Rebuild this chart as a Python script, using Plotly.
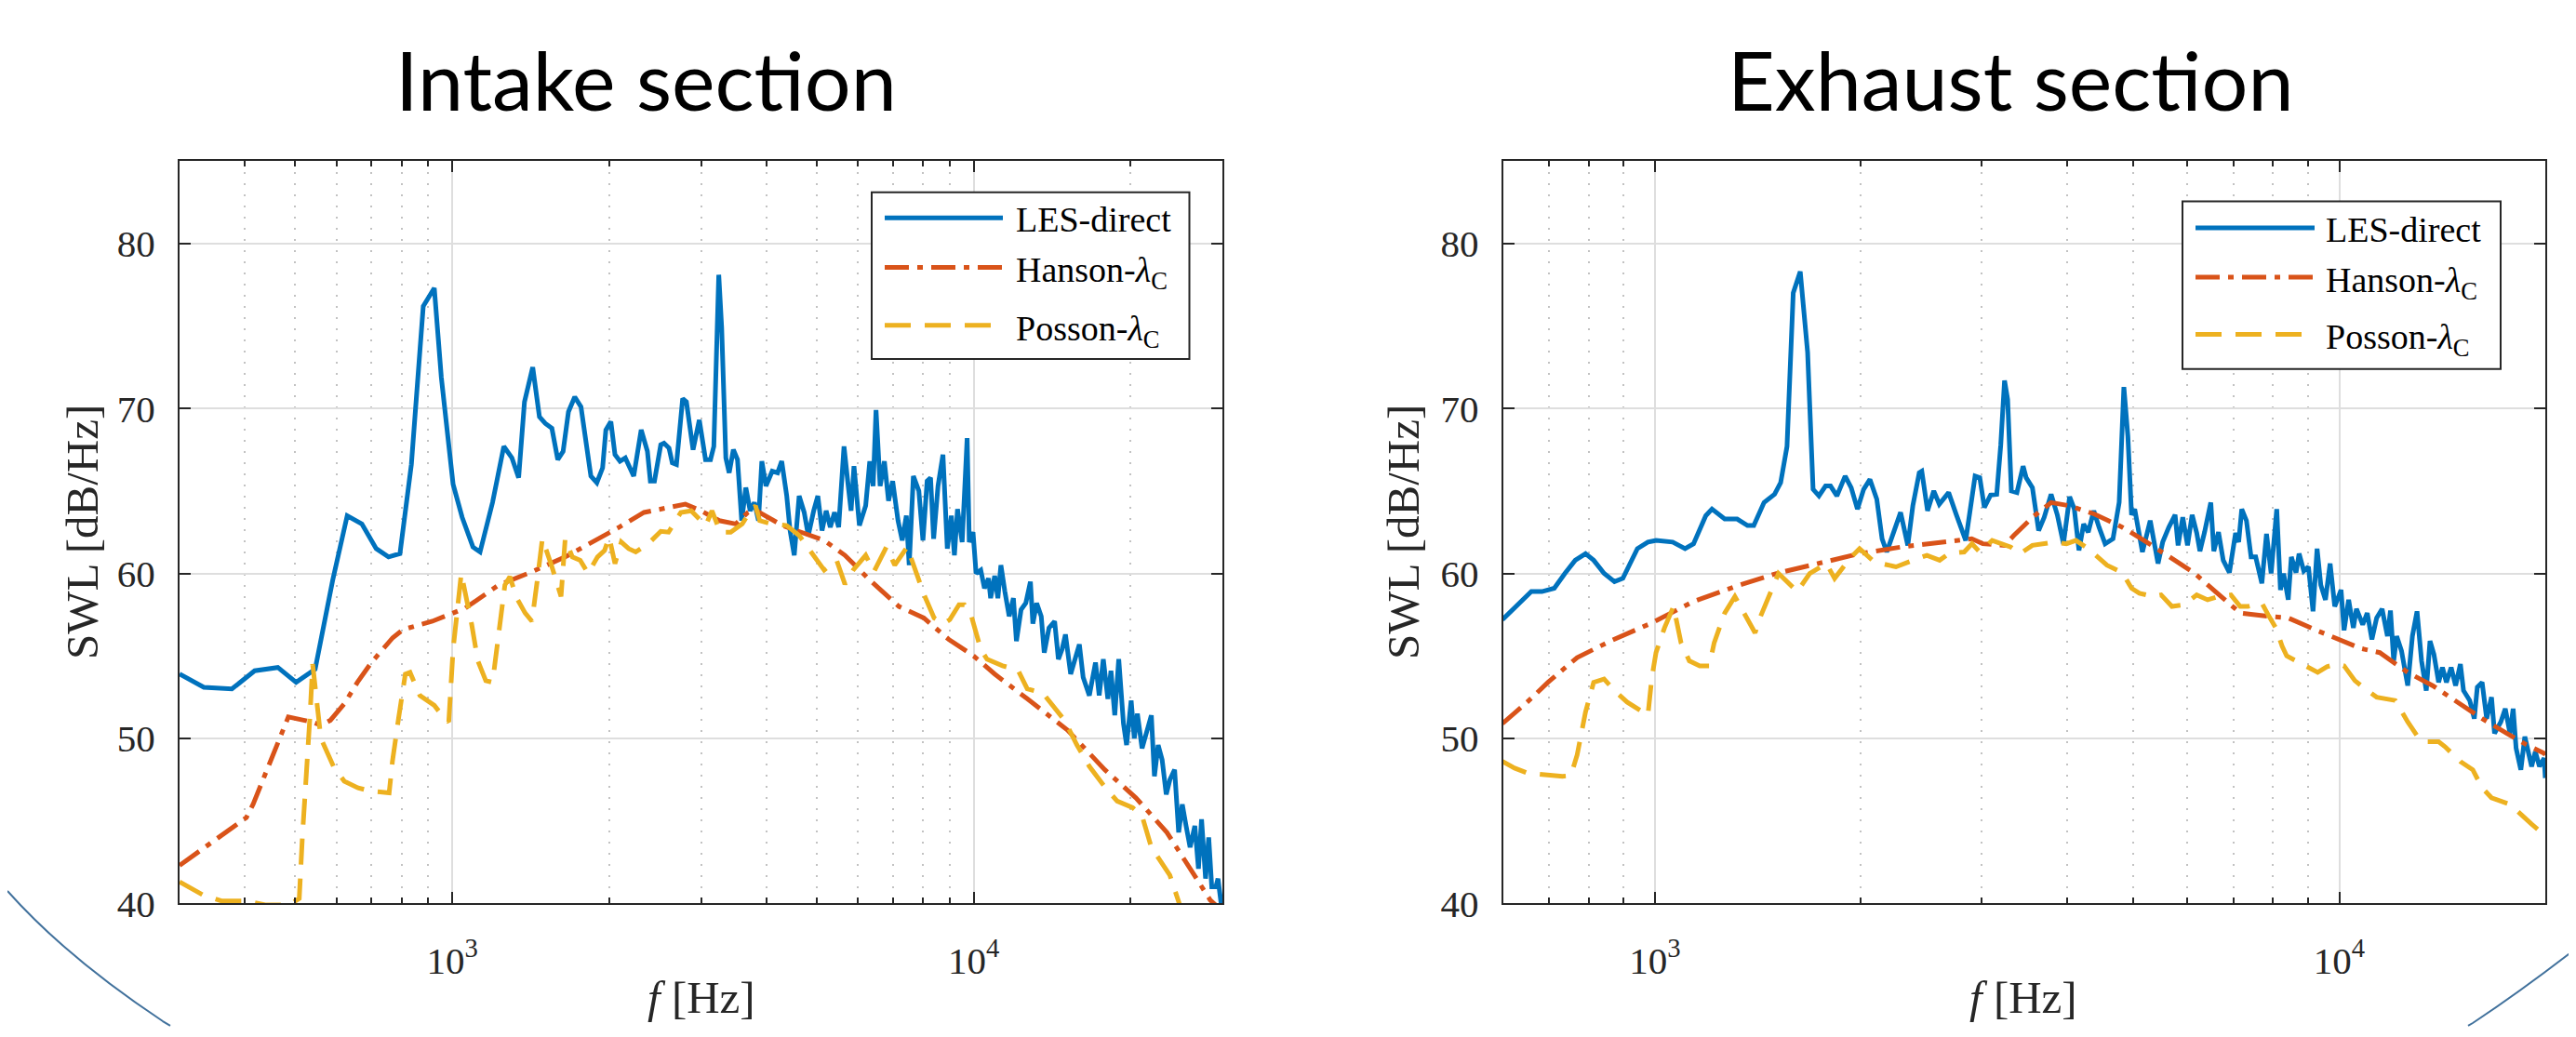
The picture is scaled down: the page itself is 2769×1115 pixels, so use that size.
import plotly.graph_objects as go
import numpy as np

W, H = 2769, 1115

# ---------------- DATA ----------------
# Intake section
intake_les_f = [300,334,378,418,463,502,546,590,629,671,715,755,794,835,880,924,953,1004,1045,1096,1131,1195,1256,1302,1341,1376,1427,1470,1508,1553,1594,1632,1671,1718,1766,1845,1894,1943,1971,2015,2052,2098,2148,2229,2304,2368,2399,2443,2512,2548,2605,2643,2692,2767,2813,2897,2978,3061,3129,3175,3245,3287,3348,3398,3461,3525,3591,3657,3728,3798,3867,3925,3997,4109,4208,4285,4381,4446,4529,4628,4732,4819,4935,5026,5120,5214,5311,5410,5510,5642,5748,5821,5896,6039,6208,6322,6416,6499,6618,6743,6868,6994,7162,7295,7430,7524,7664,7851,7995,8144,8268,8381,8545,8733,8903,9064,9187,9313,9506,9718,9810,9973,10110,10320,10490,10680,10780,10975,11130,11280,11480,11700,11920,12080,12330,12590,12850,12990,13210,13480,13660,13950,14300,14540,14780,15000,15350,15610,15950,16220,16670,17130,17410,17730,18090,18340,18650,18980,19380,19650,20050,20330,20610,21040,21470,21920,22220,22590,22990,23410,23790,24290,24730,25130,25550,26010,26560,26990,27360,27850,28240,28620,29140,29420,29830]
intake_les_db = [53.9,53.1,53.0,54.1,54.3,53.4,54.2,59.6,63.5,63.0,61.5,61.0,61.2,66.6,76.2,77.3,71.9,65.4,63.4,61.6,61.3,64.3,67.7,67.0,65.8,70.4,72.5,69.5,69.1,68.8,66.9,67.4,69.8,70.7,70.1,65.9,65.5,66.4,68.7,69.2,67.2,66.8,67.0,65.9,68.7,67.4,65.6,65.6,67.8,67.9,67.6,66.7,66.6,70.6,70.4,67.5,69.3,66.9,66.9,67.7,78.1,74.9,67.0,66.1,67.5,66.9,63.2,65.2,63.8,64.3,63.2,66.8,65.3,66.2,66.1,66.8,64.7,62.6,61.1,64.7,63.7,62.3,63.8,64.7,62.6,63.8,62.8,63.7,62.8,67.7,65.3,63.8,66.5,62.9,64.1,66.8,65.3,69.9,65.3,66.8,64.4,65.6,63.2,62.0,63.5,60.5,65.9,65.0,62.0,65.6,65.8,62.1,65.3,67.2,61.5,63.5,61.1,63.9,61.9,68.2,61.9,62.5,60.0,60.2,59.1,59.7,58.5,59.85,58.5,60.5,58.9,57.4,58.5,55.9,57.8,58.2,59.5,56.95,58.2,57.4,55.2,56.7,57.1,54.8,55.4,56.3,53.9,54.8,55.7,53.7,52.6,54.6,52.6,54.8,52.4,54.1,51.4,54.8,50.9,49.6,52.3,50.0,51.5,49.4,50.5,51.4,47.7,49.6,48.7,46.6,47.5,48.1,44.3,46.0,44.7,43.4,44.7,42.1,45.1,41.5,44.0,41.0,41.0,41.5,40.0]

intake_hanson_f = [300,338,403,415,447,472,485,538,560,584,621,658,700,769,805,916,1060,1228,1422,1647,1907,2090,2333,2653,2800,3000,3253,3499,3690,3784,4301,5168,5665,6322,7189,8024,8960,10000,10975,12670,15140,17850,20470,23480,25830,28430,29800]
intake_hanson_db = [42.3,43.5,45.2,46.0,48.5,50.5,51.3,51.0,50.8,51.1,52.1,53.4,54.6,56.1,56.6,57.1,57.9,59.3,60.1,61.0,62.1,62.8,63.7,64.1,64.2,63.8,63.2,63.0,63.7,63.9,62.9,62.0,61.1,59.6,58.0,57.3,56.0,55.0,53.9,52.4,50.5,48.1,46.4,44.3,42.3,40.2,39.6]

intake_posson_f = [300,333,361,403,440,480,492,509,516,527,534,540,560,592,621,660,698,757,768,789,813,830,867,924,967,985,1004,1041,1060,1090,1120,1160,1195,1228,1262,1290,1330,1380,1422,1455,1489,1550,1617,1647,1700,1760,1822,1900,1960,2000,2052,2110,2180,2249,2377,2512,2600,2745,2873,3064,3149,3267,3420,3600,3714,3817,3888,4100,4381,4628,5026,5168,5461,5665,5875,6208,6438,6804,7059,7458,8024,8400,8758,9000,9376,9600,9904,10320,10610,11360,12160,12670,13570,14940,15780,16670,17850,18850,20190,21040,21920,22840,23790,24790,25500]
intake_posson_db = [41.3,40.5,40.15,40.15,39.9,39.9,40.0,40.3,44.0,48.1,51.5,54.5,50.0,48.3,47.4,47.0,46.8,46.7,48.6,51.2,53.9,54.0,52.6,52.0,51.2,51.0,55.4,60.0,58.9,56.9,54.7,53.5,53.4,56.6,59.3,59.8,58.5,57.6,57.1,59.5,62.1,60.5,58.6,62.1,61.0,60.8,60.0,61.0,61.4,62.2,60.6,61.9,61.5,61.3,61.8,62.55,62.5,63.7,63.8,62.9,63.8,62.5,62.5,63.0,63.7,64.1,63.2,63.0,62.9,62.3,60.8,60.2,60.8,59.35,60.2,61.1,60.1,61.6,60.5,61.6,58.75,57.3,56.95,57.2,58.1,58.1,57.4,55.4,54.8,54.4,54.15,53.0,52.75,51.1,49.6,48.3,47.05,46.2,45.8,45.3,43.4,42.5,41.7,40.0,38.8]

# Exhaust section
exhaust_les_f = [599,633,660,684,713,739,765,792,814,843,873,898,943,977,1004,1062,1107,1139,1187,1212,1265,1319,1366,1395,1444,1496,1527,1560,1593,1631,1649,1672,1703,1737,1776,1806,1845,1897,1936,1977,2019,2062,2110,2148,2182,2227,2286,2342,2382,2434,2455,2503,2556,2604,2687,2758,2846,2937,2984,3030,3094,3159,3202,3243,3277,3318,3381,3452,3488,3562,3637,3706,3793,3873,3954,4037,4101,4166,4232,4298,4379,4457,4549,4671,4769,4845,4911,4972,5025,5157,5294,5435,5521,5637,5756,5815,5907,6002,6096,6191,6258,6356,6491,6557,6661,6768,6910,7055,7129,7203,7318,7432,7549,7707,7829,7952,8103,8205,8293,8423,8511,8647,8736,8875,9016,9155,9281,9397,9546,9697,9849,10060,10163,10320,10486,10595,10820,10987,11160,11340,11550,11760,11880,12010,12130,12330,12590,12790,12990,13190,13400,13570,13750,13970,14150,14340,14570,14790,15030,15190,15510,15750,15910,16170,16420,16690,16860,17220,17480,17760,17950,18130,18420,18670,18910,19100,19340,19610,19920,20000]
exhaust_les_db = [57.2,58.2,58.9,58.9,59.1,60.0,60.8,61.2,60.8,60.0,59.5,59.7,61.5,61.9,62.0,61.9,61.5,61.8,63.5,63.9,63.3,63.3,62.9,62.9,64.3,64.8,65.5,67.7,77.0,78.3,76.4,73.4,65.1,64.7,65.3,65.3,64.7,65.9,65.2,63.9,65.1,65.7,64.5,62.1,61.3,62.3,63.7,61.7,64.1,66.1,66.2,63.8,65.0,64.2,64.9,63.55,62.0,65.9,65.8,64.0,64.75,64.8,67.8,71.7,70.55,65.0,64.9,66.5,65.8,65.2,62.6,63.4,64.8,63.55,61.8,64.65,63.9,61.4,63.0,62.5,63.8,62.8,61.8,62.1,64.3,71.3,68.3,63.55,63.9,61.3,63.2,60.6,61.9,62.8,63.55,61.7,63.4,61.7,63.55,62.45,61.35,62.5,64.3,61.35,62.5,60.8,60.05,62.45,61.9,63.9,63.2,61.0,61.0,59.4,62.4,60.0,63.9,59.0,60.0,58.4,61.0,60.05,61.2,60.15,60.4,57.7,61.5,59.3,58.4,60.6,58.0,59.0,56.55,58.4,56.7,57.85,56.9,57.6,56.0,57.3,57.85,56.2,57.75,54.7,56.2,55.3,53.2,56.2,57.7,54.7,52.9,55.9,55.1,53.4,54.3,53.4,54.3,53.2,54.5,52.9,52.3,51.2,53.1,53.4,51.2,52.5,50.3,51.0,51.8,50.3,51.8,49.4,48.1,50.1,49.2,48.3,49.2,48.3,48.8,47.6]

exhaust_hanson_f = [599,651,698,770,861,990,1139,1309,1506,1732,1991,2290,2634,2904,3014,3243,3346,3562,3793,4037,4388,4819,5185,5637,6129,6593,6945,7165,7870,8423,9204,10000,10760,11460,12590,13690,14880,16170,17580,18710,19920,20000]
exhaust_hanson_db = [50.9,52.2,53.4,54.9,55.9,57.0,58.3,59.2,60.0,60.6,61.2,61.6,61.9,62.1,61.8,61.7,62.3,63.4,64.3,64.1,63.6,62.8,62.0,61.0,60.05,58.9,58.1,57.6,57.4,57.3,56.6,56.0,55.45,55.2,54.0,53.2,52.2,51.2,50.3,49.65,49.1,49.0]

exhaust_posson_f = [599,624,651,698,733,754,770,792,814,843,873,911,956,977,990,1004,1033,1065,1092,1123,1163,1201,1221,1265,1309,1346,1401,1424,1464,1516,1615,1684,1781,1831,1936,1991,2093,2251,2421,2498,2607,2687,2831,2906,2983,3111,3311,3417,3562,3832,3995,4122,4298,4437,4577,4821,4972,5105,5351,5492,5695,5937,6191,6421,6659,6945,7165,7355,7709,7870,8078,8249,8379,8646,9300,9596,9901,10163,10540,10990,11340,12070,12590,13120,13400,13970,14270,15030,15670,16170,16690,17220,17760,19100,20000]
exhaust_posson_db = [48.6,48.2,47.9,47.8,47.7,47.75,49.0,51.6,53.4,53.6,52.9,52.2,51.6,51.4,53.7,55.2,56.7,58.0,55.8,54.7,54.4,54.4,55.8,57.6,58.6,57.7,56.4,57.3,58.5,60.0,58.9,60.0,60.6,59.7,61.0,61.5,60.7,60.4,60.9,61.1,60.8,61.2,61.3,61.8,61.3,62.0,61.6,61.2,61.7,61.9,61.8,62.0,61.5,61.0,60.5,60.05,59.1,58.8,58.6,58.7,58.0,58.1,58.7,58.4,58.6,58.7,58.0,58.0,58.2,57.5,56.7,55.6,55.0,54.7,54.0,54.35,54.5,54.4,53.5,52.9,52.5,52.3,51.0,49.9,49.8,49.8,49.5,48.6,48.1,47.0,46.4,46.2,46.0,44.8,44.1]

titles = ["Intake section", "Exhaust section"]
series_names = ["LES-direct", "Hanson-<i>λ</i><sub>C</sub>", "Posson-<i>λ</i><sub>C</sub>"]
x_ranges = [(300, 30000), (600, 20000)]
y_range = (40, 85)
y_ticks = [40, 50, 60, 70, 80]
x_major = [1000, 10000]
x_major_text = ["10<sup>3</sup>", "10<sup>4</sup>"]
x_minor = [[400, 500, 600, 700, 800, 900, 2000, 3000, 4000, 5000, 6000, 7000, 8000, 9000, 20000],
           [700, 800, 900, 2000, 3000, 4000, 5000, 6000, 7000, 8000, 9000]]

for a, b in [(intake_les_f, intake_les_db), (intake_hanson_f, intake_hanson_db),
             (intake_posson_f, intake_posson_db), (exhaust_les_f, exhaust_les_db),
             (exhaust_hanson_f, exhaust_hanson_db), (exhaust_posson_f, exhaust_posson_db)]:
    assert len(a) == len(b), (len(a), len(b))

# ---------------- STYLE ----------------
BLUE, RED, YEL = "#0072BD", "#D95319", "#EDB120"
AX = "#262626"
LW = 5
DASHES = ["solid", "26px,9px,6px,9px", "28px,15px"]
COLORS = [BLUE, RED, YEL]
SERIF = "Liberation Serif"

def px(X):
    return X / W

def py(Y):
    return 1 - Y / H

fig = go.Figure()
panels = [
    [(intake_les_f, intake_les_db), (intake_hanson_f, intake_hanson_db), (intake_posson_f, intake_posson_db)],
    [(exhaust_les_f, exhaust_les_db), (exhaust_hanson_f, exhaust_hanson_db), (exhaust_posson_f, exhaust_posson_db)],
]
for i, panel in enumerate(panels):
    xa = "x" if i == 0 else "x2"
    ya = "y" if i == 0 else "y2"
    for k, (f, d) in enumerate(panel):
        fig.add_trace(go.Scatter(x=f, y=d, mode="lines", xaxis=xa, yaxis=ya,
                                 line=dict(color=COLORS[k], width=LW, dash=DASHES[k]),
                                 showlegend=False, hoverinfo="skip"))

# axis pixel boxes
x_dom_px = [(185, 1306), (1607.6, 2728)]
y_dom_px = (168.6, 983.6)

def xaxis(i):
    lo, hi = x_ranges[i]
    return dict(type="log", domain=[px(x_dom_px[i][0]), px(x_dom_px[i][1])],
                range=[np.log10(lo), np.log10(hi)], anchor="y" if i == 0 else "y2",
                tickmode="array", tickvals=x_major, ticktext=x_major_text,
                ticks="inside", ticklen=12, tickwidth=2, tickcolor=AX,
                showline=True, linecolor=AX, linewidth=2, mirror="ticks",
                showgrid=True, gridcolor="#dedede", gridwidth=2,
                minor=dict(tickmode="array", tickvals=x_minor[i], ticks="inside", ticklen=6,
                           tickwidth=2, tickcolor=AX, showgrid=True, gridcolor="#c2c2c2",
                           gridwidth=2, griddash="2px,10px"),
                tickfont=dict(family=SERIF, size=41, color=AX),
                ticklabelstandoff=24, zeroline=False, fixedrange=True)

def yaxis(i):
    return dict(domain=[py(y_dom_px[1]), py(y_dom_px[0])], range=list(y_range),
                anchor="x" if i == 0 else "x2",
                tickmode="array", tickvals=y_ticks, ticktext=[str(v) for v in y_ticks],
                ticks="inside", ticklen=12, tickwidth=2, tickcolor=AX,
                showline=True, linecolor=AX, linewidth=2, mirror="ticks",
                showgrid=True, gridcolor="#dedede", gridwidth=2,
                tickfont=dict(family=SERIF, size=41, color=AX),
                ticklabelstandoff=16, zeroline=False, fixedrange=True)

annotations = []
shapes = []

# titles
for X, t in zip([686, 2153], titles):
    annotations.append(dict(x=px(X), y=py(79), xref="paper", yref="paper", text=t,
                            showarrow=False, xanchor="center", yanchor="middle",
                            font=dict(family="Lato", size=88, color="#000000")))
# axis titles
for X in [80, 1500]:
    annotations.append(dict(x=px(X), y=py(576), xref="paper", yref="paper", text="SWL [dB/Hz]",
                            textangle=-90, showarrow=False, xanchor="center", yanchor="middle",
                            font=dict(family=SERIF, size=49, color=AX)))
for X in [746, 2167]:
    annotations.append(dict(x=px(X), y=py(1087), xref="paper", yref="paper", text="<i>f</i> [Hz]",
                            showarrow=False, xanchor="center", yanchor="middle",
                            font=dict(family=SERIF, size=49, color=AX)))

# legends (drawn by hand, MATLAB style)
legend_boxes = [dict(x0=929, x1=1270.5, y0=203, y1=386, lx0=943, lx1=1070, tx=1082, rows=[231, 285.5, 349]),
                dict(x0=2338, x1=2680, y0=213, y1=397, lx0=2352, lx1=2480, tx=2490, rows=[242, 296, 359])]
for lb in legend_boxes:
    shapes.append(dict(type="rect", xref="paper", yref="paper", x0=px(lb["x0"]), x1=px(lb["x1"]),
                       y0=py(lb["y1"]), y1=py(lb["y0"]), line=dict(color=AX, width=2),
                       fillcolor="white", layer="above"))
    for k, Y in enumerate(lb["rows"]):
        shapes.append(dict(type="line", xref="paper", yref="paper", x0=px(lb["lx0"]), x1=px(lb["lx1"]),
                           y0=py(Y), y1=py(Y), line=dict(color=COLORS[k], width=LW, dash=DASHES[k]),
                           layer="above"))
        annotations.append(dict(x=px(lb["tx"]), y=py(Y + 6 if k > 0 else Y + 2), xref="paper", yref="paper",
                                text=series_names[k], showarrow=False, xanchor="left", yanchor="middle",
                                font=dict(family=SERIF, size=38, color="#000000")))

# decorative arcs of the slide
arc_col = "#41719C"
shapes.append(dict(type="path", xref="paper", yref="paper", layer="below",
                   path=f"M {px(0)} {py(970)} Q {px(62.6)} {py(1042)} {px(167)} {py(1113)} L {px(175)} {py(1118)}",
                   line=dict(color=arc_col, width=2)))
shapes.append(dict(type="path", xref="paper", yref="paper", layer="below",
                   path=f"M {px(2645)} {py(1118)} L {px(2650)} {py(1115)} Q {px(2707.5)} {py(1075.9)} {px(2769)} {py(1026.7)}",
                   line=dict(color=arc_col, width=2)))

fig.update_layout(width=W, height=H, margin=dict(l=0, r=0, t=0, b=0),
                  paper_bgcolor="white", plot_bgcolor="white", showlegend=False,
                  hovermode=False,
                  xaxis=xaxis(0), yaxis=yaxis(0), xaxis2=xaxis(1), yaxis2=yaxis(1),
                  annotations=annotations, shapes=shapes)

fig.write_html("out.html", config={"displayModeBar": False})
